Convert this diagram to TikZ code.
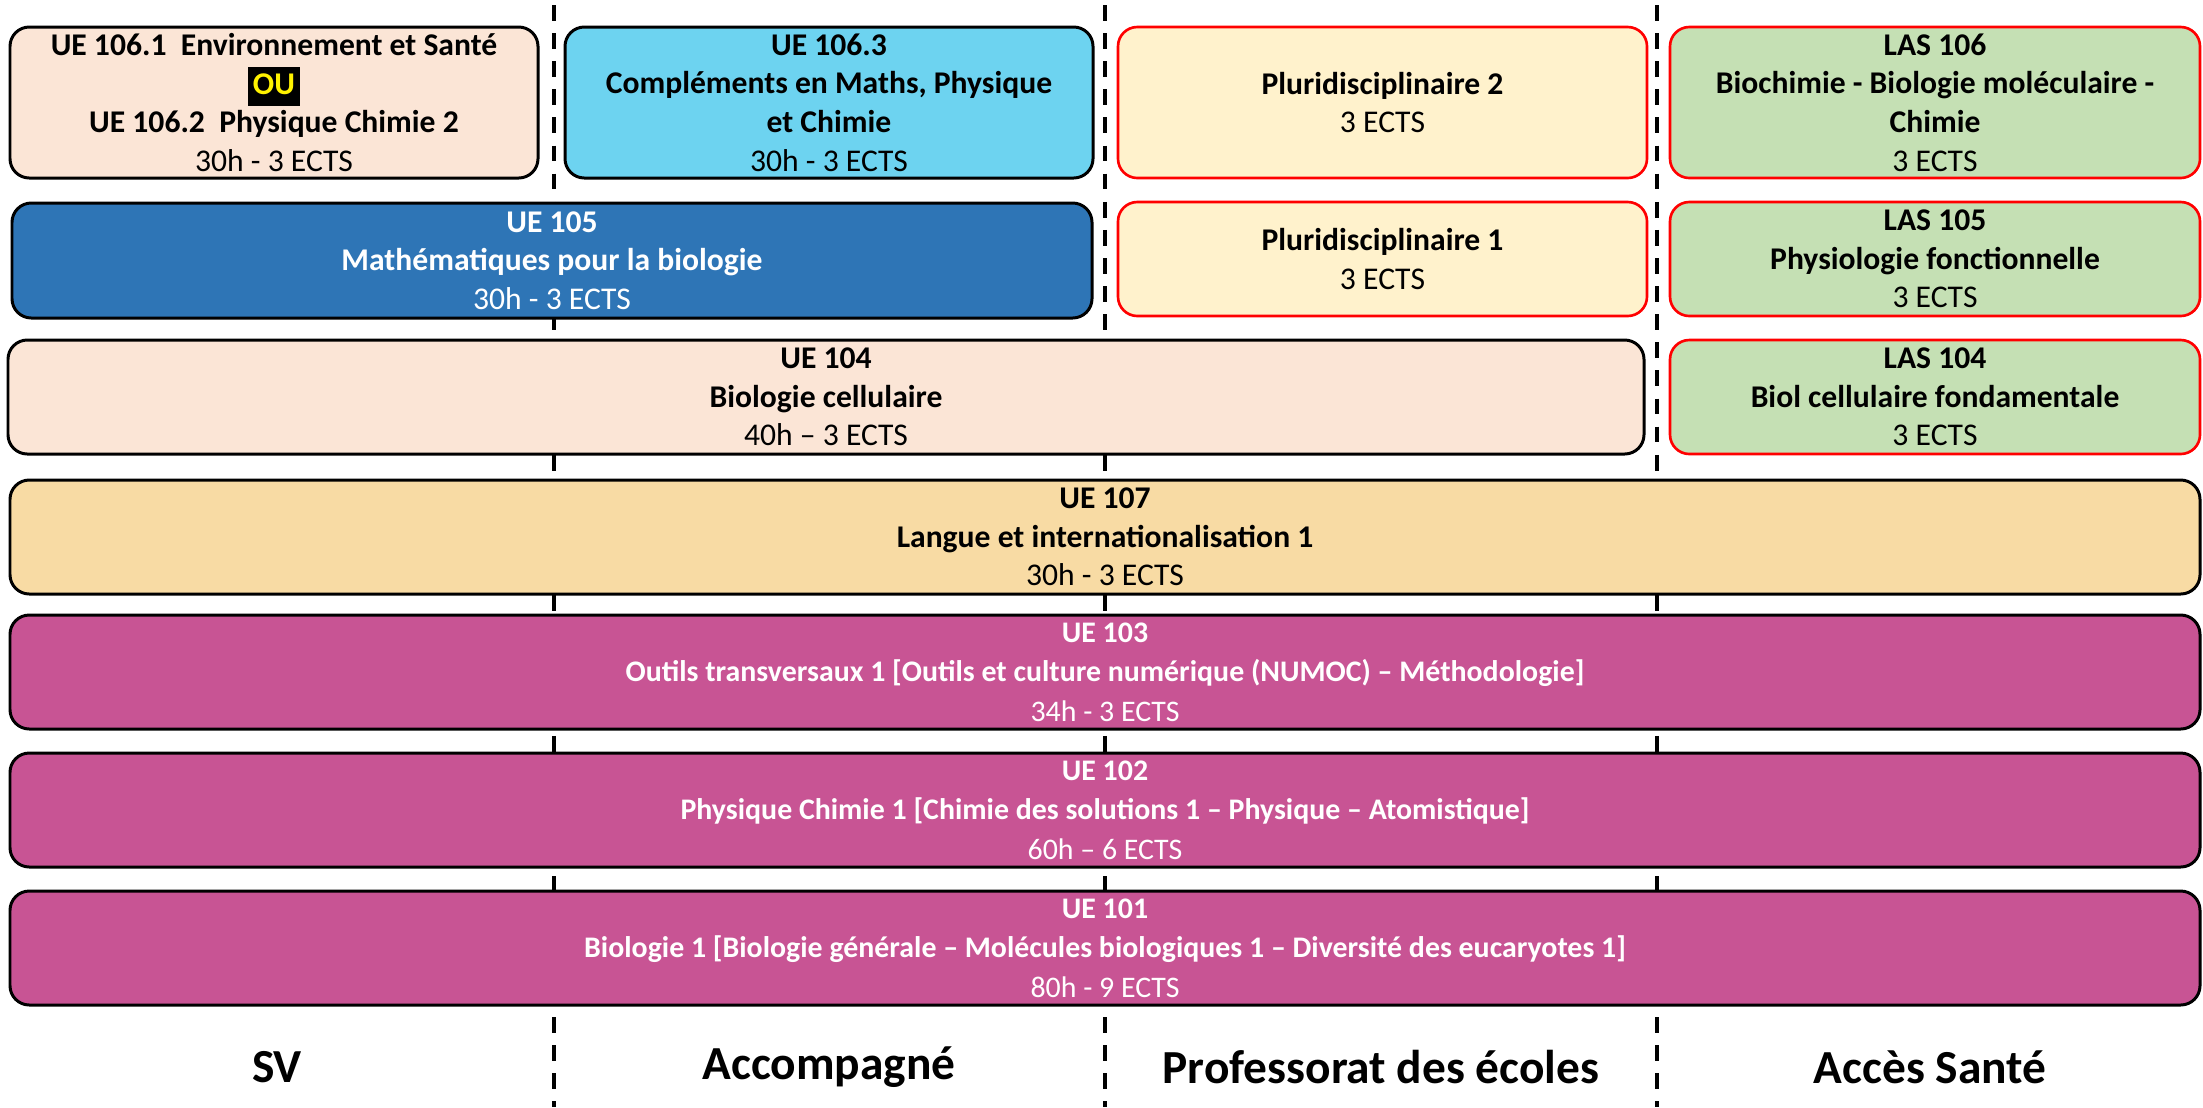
\documentclass[tikz,border=0pt]{standalone}
\usepackage{fontspec}
\setmainfont{Carlito}
\usepackage{tikz}
\usetikzlibrary{positioning}
\definecolor{peach}{HTML}{FBE5D6}
\definecolor{cyanUE}{HTML}{6DD3F0}
\definecolor{blueUE}{HTML}{2E75B6}
\definecolor{pluri}{HTML}{FFF2CC}
\definecolor{las}{HTML}{C5E0B4}
\definecolor{langue}{HTML}{F8DBA4}
\definecolor{tronc}{HTML}{C85494}
\tikzset{
  ue/.style={draw=black, line width=1.7pt, rounded corners=11pt, inner sep=0pt, align=center,
    font=\fontsize{18}{22}\selectfont},
  opt/.style={ue, draw=red, line width=1.5pt},
  troncbox/.style={ue, fill=tronc, text=white, font=\fontsize{17}{22.5}\selectfont},
  % Kasten ueber linke obere und rechte untere Ecke (in Pixeln)
  kasten/.style n args={4}{at={({(#1+#3)/2},{(#2+#4)/2})},
    minimum width={(#3-#1)*0.02cm}, minimum height={(#4-#2)*0.02cm}},
  parcours/.style={font=\fontsize{27}{32}\selectfont\bfseries},
  trenner/.style={line width=2.3pt, dash pattern=on 9pt off 7pt}
}
\newcommand{\ouMark}{{\setlength{\fboxsep}{0pt}\colorbox{black}{\strut\,\textcolor{yellow}{OU}\,}}}

\begin{document}
\begin{tikzpicture}[x=0.02cm,y=-0.02cm]
\useasboundingbox (0,0) rectangle (2203,1107);
%Trennlinien zwischen den Parcours (liegen hinter den Kaesten)
\foreach \xs in {554,1105,1657}{
\draw[trenner] (\xs,5) -- (\xs,1107);
}
%obere Reihen
\node[ue, fill=peach, kasten={10}{27}{538}{178}] (ue1061) {\textbf{UE 106.1\ \ Environnement et Santé}\\ \textbf{\ouMark}\\ \textbf{UE 106.2\ \ Physique Chimie 2}\\ 30h - 3 ECTS};
\node[ue, fill=cyanUE, kasten={565}{27}{1093}{178}] (ue1063) {\textbf{UE 106.3}\\ \textbf{Compléments en Maths, Physique}\\ \textbf{et Chimie}\\ 30h - 3 ECTS};
\node[opt, fill=pluri, kasten={1118}{27}{1647}{178}] (pluri2) {\textbf{Pluridisciplinaire 2}\\ 3 ECTS};
\node[opt, fill=las, kasten={1670}{27}{2200}{178}] (las106) {\textbf{LAS 106}\\ \textbf{Biochimie - Biologie moléculaire -}\\ \textbf{Chimie}\\ 3 ECTS};
\node[ue, fill=blueUE, text=white, kasten={12}{203}{1092}{318}] (ue105) {\textbf{UE 105}\\ \textbf{Mathématiques pour la biologie}\\ 30h - 3 ECTS};
\node[opt, fill=pluri, kasten={1118}{202}{1647}{316}] (pluri1) {\textbf{Pluridisciplinaire 1}\\ 3 ECTS};
\node[opt, fill=las, kasten={1670}{202}{2200}{316}] (las105) {\textbf{LAS 105}\\ \textbf{Physiologie fonctionnelle}\\ 3 ECTS};
\node[ue, fill=peach, kasten={8}{340}{1644}{454}] (ue104) {\textbf{UE 104}\\ \textbf{Biologie cellulaire}\\ 40h – 3 ECTS};
\node[opt, fill=las, kasten={1670}{340}{2200}{454}] (las104) {\textbf{LAS 104}\\ \textbf{Biol cellulaire fondamentale}\\ 3 ECTS};
%Tronc commun
\node[ue, fill=langue, kasten={10}{480}{2200}{594}] (ue107) {\textbf{UE 107}\\ \textbf{Langue et internationalisation 1}\\ 30h - 3 ECTS};
\node[troncbox, kasten={10}{615}{2200}{729}] (ue103) {\textbf{UE 103}\\ \textbf{Outils transversaux 1 [Outils et culture numérique (NUMOC) – Méthodologie]}\\ 34h - 3 ECTS};
\node[troncbox, kasten={10}{753}{2200}{867}] (ue102) {\textbf{UE 102}\\ \textbf{Physique Chimie 1 [Chimie des solutions 1 – Physique – Atomistique]}\\ 60h – 6 ECTS};
\node[troncbox, kasten={10}{891}{2200}{1005}] (ue101) {\textbf{UE 101}\\ \textbf{Biologie 1 [Biologie générale – Molécules biologiques 1 – Diversité des eucaryotes 1]}\\ 80h - 9 ECTS};
%Parcours
\node[parcours] (sv) at (277,1067) {SV};
\node[parcours] (accomp) at (829,1067) {Accompagné};
\node[parcours] (profecoles) at (1381,1067) {Professorat des écoles};
\node[parcours] (sante) at (1930,1067) {Accès Santé};
\end{tikzpicture}
\end{document}
